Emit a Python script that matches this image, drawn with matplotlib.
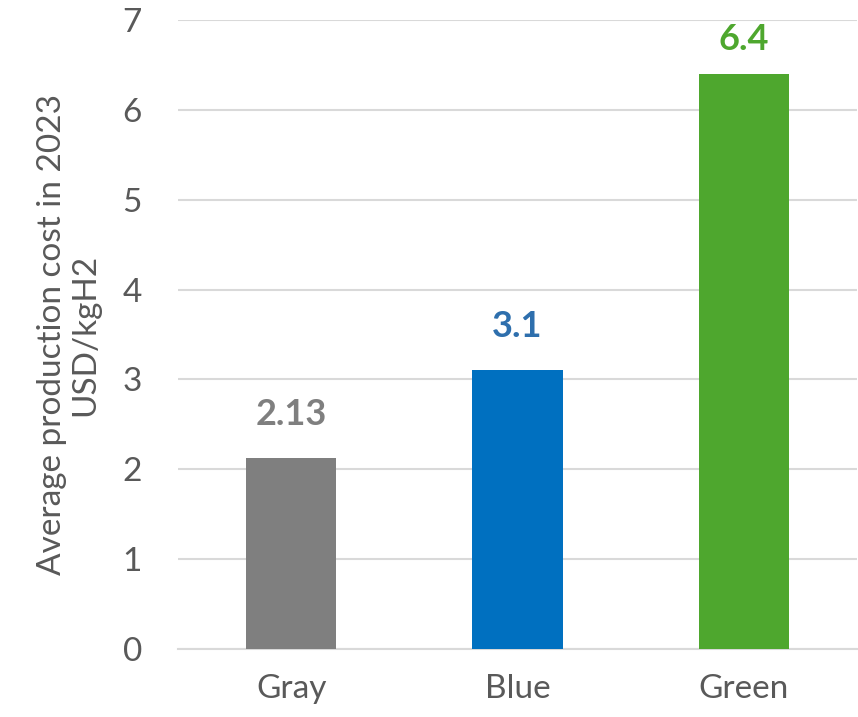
import matplotlib.pyplot as plt

# Hydrogen production cost by colour, 2023
categories = ['Gray', 'Blue', 'Green']
costs = [2.13, 3.1, 6.4]
value_labels = ['2.13', '3.1', '6.4']
bar_colors = ['#7f7f7f', '#0070c0', '#4ea72e']
label_colors = ['#7f7f7f', '#2e6fad', '#4ea72e']
y_ticks = [0, 1, 2, 3, 4, 5, 6, 7]

plt.rcParams['font.family'] = ['Lato', 'DejaVu Sans']

fig = plt.figure(figsize=(8.58, 7.17), dpi=100)
ax = fig.add_axes([0.2075, 0.095, 0.7915, 0.877])

x = range(len(categories))
ax.bar(x, costs, width=0.4, color=bar_colors, zorder=3)

for i, (v, lab) in enumerate(zip(costs, value_labels)):
    # keep the top label inside the frame
    off = 0.3 if v < 6 else 0.2
    ax.text(i, v + off, lab, ha='center', va='bottom', fontsize=26,
            fontweight='bold', color=label_colors[i])

ax.set_xlim(-0.5, 2.5)
ax.set_ylim(0, 7)
ax.set_yticks(y_ticks)
ax.set_xticks(list(x))
ax.set_xticklabels(categories)
ax.tick_params(axis='both', length=0, labelsize=24, labelcolor='#595959')
ax.tick_params(axis='y', pad=26)
ax.tick_params(axis='x', pad=18)
ax.grid(axis='y', color='#d9d9d9', linewidth=1.5, zorder=0)

for s in ['top', 'right', 'left']:
    ax.spines[s].set_visible(False)
ax.spines['bottom'].set_color('#d9d9d9')
ax.spines['bottom'].set_linewidth(1.5)

ax.set_ylabel('Average production cost in 2023\nUSD/kgH2', fontsize=24,
              color='#595959', labelpad=16, linespacing=1.15)

fig.savefig('out.png', dpi=100)
